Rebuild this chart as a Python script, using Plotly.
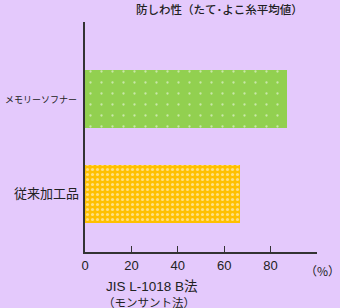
import plotly.graph_objects as go

categories = ["従来加工品", "メモリーソフナー"]
values = [67, 87]
colors = ["#FFC000", "#92D050"]
patterns = [".", "."]
pattern_sizes = [5, 11]
pattern_solidity = [0.3, 0.035]
x_ticks = [0, 20, 40, 60, 80]
title_text = "防しわ性（たて･よこ糸平均値）"
unit_text = "（%）"
method_line1 = "JIS L-1018 B法"
method_line2 = "（モンサント法）"

bg = "#E4C9FC"
font_jp = "Noto Sans CJK JP"
font_lat = "Liberation Sans, Arial, Noto Sans CJK JP"

fig = go.Figure()
for i, (c, v) in enumerate(zip(categories, values)):
    fig.add_trace(go.Bar(
        x=[v], y=[i], orientation="h", width=0.61,
        marker=dict(color=colors[i], line=dict(width=0),
                    pattern=dict(shape=patterns[i], fgcolor="white", bgcolor=colors[i],
                                 size=pattern_sizes[i], solidity=pattern_solidity[i],
                                 fillmode="overlay")),
        showlegend=False, hoverinfo="skip"))

fig.update_layout(
    width=340, height=308,
    paper_bgcolor=bg, plot_bgcolor=bg,
    margin=dict(l=85, r=23, t=22, b=56),
    font=dict(family=font_jp, color="#222222", size=11),
    bargap=0,
)
fig.update_xaxes(
    range=[0, 100], tickvals=x_ticks, ticktext=[str(t) for t in x_ticks],
    ticks="inside", ticklen=6, tickcolor="#333333", tickwidth=1,
    showline=True, linecolor="#333333", linewidth=1.5,
    showgrid=False, zeroline=False, automargin=False,
    tickfont=dict(family=font_lat, size=13, color="#222222"),
    ticklabelstandoff=1,
)
fig.update_yaxes(
    range=[-0.61, 1.81], tickvals=[0, 1],
    ticktext=['<span style="font-size:13px">従来加工品</span>',
              '<span style="font-size:9px">メモリーソフナー\u00a0</span>'],
    ticks="", showline=True, linecolor="#333333", linewidth=1.5,
    showgrid=False, zeroline=False, automargin=False,
    tickfont=dict(family=font_jp, color="#222222"),
    ticklabelstandoff=2,
)
fig.add_annotation(text=title_text, xref="paper", yref="paper", x=1.0, y=1.0,
                   xanchor="right", yanchor="bottom", yshift=3, xshift=-12, showarrow=False,
                   font=dict(size=11.5, family=font_jp, color="#222222", weight=500))
fig.add_annotation(text=unit_text, xref="paper", yref="paper", x=1.0, y=0,
                   xanchor="left", yanchor="top", xshift=-14, yshift=-8, showarrow=False,
                   font=dict(size=12, family=font_jp, color="#222222"))
fig.add_annotation(text=method_line1, xref="paper", yref="paper", x=0.08, y=0,
                   xanchor="left", yanchor="middle", yshift=-34, showarrow=False, align="left",
                   font=dict(size=13.5, family=font_lat, color="#222222"))
fig.add_annotation(text=method_line2, xref="paper", yref="paper", x=0.08, y=0,
                   xanchor="left", yanchor="middle", yshift=-50, xshift=-3, showarrow=False, align="left",
                   font=dict(size=11.5, family=font_jp, color="#222222"))

fig.write_html("out.html", config={"displayModeBar": False},
               post_script="document.body.style.margin='0';document.body.style.background='" + bg + "';")
